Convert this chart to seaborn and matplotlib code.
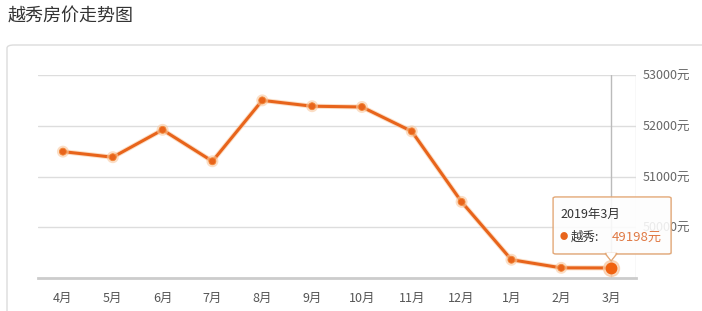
import matplotlib
matplotlib.use("Agg")
import matplotlib.pyplot as plt
import matplotlib.patheffects as pe
from matplotlib.patches import FancyBboxPatch, Polygon
import seaborn as sns
import pandas as pd

months = ["4月", "5月", "6月", "7月", "8月", "9月", "10月", "11月", "12月", "1月", "2月", "3月"]
prices = [51490, 51380, 51920, 51300, 52500, 52385, 52370, 51890, 50500, 49360, 49200, 49198]
yticks = [50000, 51000, 52000, 53000]
ytick_labels = ["50000元", "51000元", "52000元", "53000元"]
series_name = "越秀"
title = "越秀房价走势图"
tooltip_title = "2019年3月"

sns.set_style("white")
plt.rcParams['font.family'] = ['Noto Sans CJK SC', 'DejaVu Sans']

W, H = 702, 311
fig = plt.figure(figsize=(W / 100, H / 100), dpi=100)
fig.patch.set_facecolor("white")

# panel border
panel = FancyBboxPatch((7 / W, -0.05), (W + 10 - 7) / W, (311 - 45) / H + 0.05,
                       boxstyle="round,pad=0,rounding_size=0.01", transform=fig.transFigure,
                       facecolor="white", edgecolor="#dcdcdc", linewidth=1.0, zorder=-5)
fig.patches.append(panel)

fig.text(8 / W, 1 - 17 / H, title, fontsize=13, color="#333333", va="center", ha="left")

left, right, top, bottom = 38, 636, 75, 278
ax = fig.add_axes([left / W, 1 - bottom / H, (right - left) / W, (bottom - top) / H])
ax.set_facecolor("none")
ax.set_zorder(1)

df = pd.DataFrame({"month": months, "price": prices, "x": range(len(months))})
orange = "#E8641B"
sns.lineplot(data=df, x="x", y="price", ax=ax, color=orange, linewidth=2.2,
             marker="o", markersize=5, markeredgecolor="#F2883A", markeredgewidth=0.6,
             path_effects=[pe.Stroke(linewidth=3.6, foreground="#F9C9A0", alpha=0.6), pe.Normal()],
             zorder=5)

ax.set_xlim(-0.5, len(months) - 0.5)
ax.set_ylim(49000, 53000)

for sp in ["top", "left", "right"]:
    ax.spines[sp].set_visible(False)
ax.spines["bottom"].set_color("#cccccc")
ax.spines["bottom"].set_linewidth(2)

ax.set_xticks(range(len(months)))
ax.set_xticklabels(months)
ax.yaxis.tick_right()
ax.set_yticks(yticks)
ax.set_yticklabels(ytick_labels)
ax.tick_params(axis="y", length=0, pad=5, labelsize=9, labelcolor="#666666")
ax.tick_params(axis="x", length=4, width=1, color="#dddddd", pad=6, labelsize=9, labelcolor="#555555")
ax.set_xlabel("")
ax.set_ylabel("")
for yv in yticks:
    ax.axhline(yv, color="#dddddd", linewidth=1, zorder=1)
ax.axvline(len(months) - 0.5, color="#dddddd", linewidth=1, zorder=1)

# crosshair on last point
last_x = len(months) - 1
last_y = prices[-1]
ax.axvline(last_x, color="#bbbbbb", linewidth=1, zorder=2)
ax.plot([last_x], [last_y], "o", markersize=11.5, color="#F8C9A4", alpha=0.7, zorder=6)
ax.plot([last_x], [last_y], "o", markersize=7.5, color="#F0620F", zorder=7)

# tooltip
fig.canvas.draw()
px, py = ax.transData.transform((last_x, last_y))  # display pixels (origin bottom-left)

def fxy(dx, dy):
    return ((px + dx) / W, (py + dy) / H)

bx0, bx1 = -58, 60
by0, by1 = 14, 71
tip_face = (1, 1, 1, 0.88)
shadow = FancyBboxPatch(fxy(bx0 + 1, by0 - 1), (bx1 - bx0) / W, (by1 - by0) / H,
                        boxstyle="round,pad=0,rounding_size=0.004", transform=fig.transFigure,
                        facecolor="#000000", alpha=0.06, edgecolor="none", zorder=9)
fig.patches.append(shadow)
box = FancyBboxPatch(fxy(bx0, by0), (bx1 - bx0) / W, (by1 - by0) / H,
                     boxstyle="round,pad=0,rounding_size=0.004", transform=fig.transFigure,
                     facecolor=tip_face, edgecolor="#E3A877", linewidth=1.0, zorder=10)
fig.patches.append(box)
tri = Polygon([fxy(-6, by0 + 0.5), fxy(0, by0 - 7), fxy(6, by0 + 0.5)], closed=True,
              transform=fig.transFigure, facecolor="white", edgecolor="#E3A877", linewidth=1.0, zorder=10)
fig.patches.append(tri)
tri2 = Polygon([fxy(-5, by0 + 1.2), fxy(0, by0 - 5.5), fxy(5, by0 + 1.2)], closed=True,
               transform=fig.transFigure, facecolor="white", edgecolor="none", zorder=11)
fig.patches.append(tri2)

fig.text(*fxy(bx0 + 7, by1 - 17), tooltip_title, fontsize=9, color="#333333", va="center", ha="left", zorder=12)
fig.text(*fxy(bx0 + 7, by0 + 17), "●", fontsize=6, color=orange, va="center", ha="left", zorder=12)
fig.text(*fxy(bx0 + 18, by0 + 17), f"{series_name}:", fontsize=9, color="#333333", va="center", ha="left", zorder=12)
fig.text(*fxy(bx1 - 9, by0 + 17), f"{last_y}元", fontsize=9.5, color="#E07A45", va="center", ha="right", zorder=12)

fig.savefig("out.png", dpi=100)
